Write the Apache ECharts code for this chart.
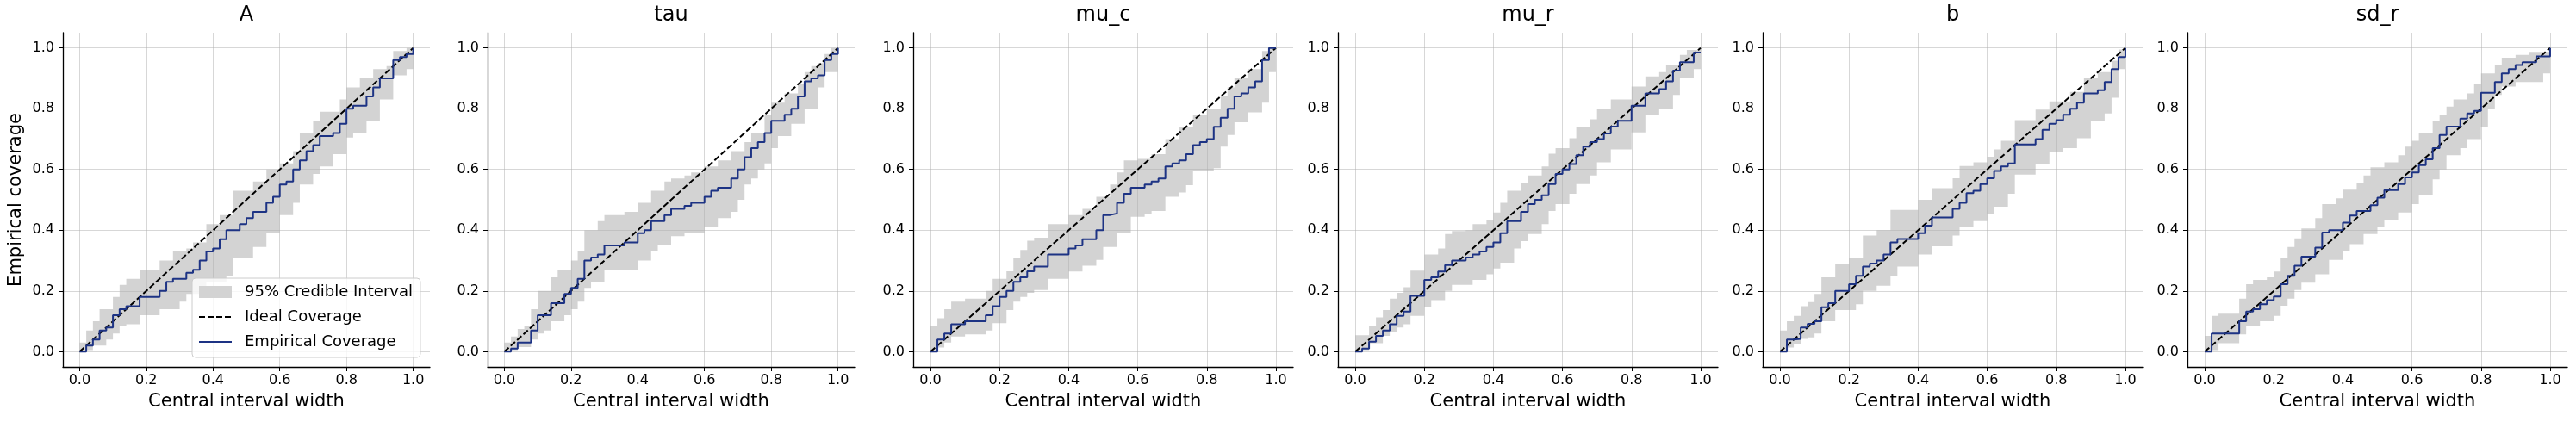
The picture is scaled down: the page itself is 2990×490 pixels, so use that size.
<!DOCTYPE html>
<html lang="en">
<head>
    <meta charset="UTF-8">
    <title>Coverage</title>
    <style>
        html, body { margin: 0; padding: 0; background: #fff; }
    </style>
</head>
<body>
<div id="myChart" style="width: 2990px;height: 490px;"></div>
</body>
<script src="https://cdn.jsdelivr.net/npm/echarts@6/dist/echarts.min.js"></script>
<script>
    // central interval widths (x) shared by all panels
    const widths = [0, 0.02, 0.04, 0.06, 0.08, 0.1, 0.12, 0.14, 0.16, 0.18, 0.2, 0.22, 0.24, 0.26, 0.28, 0.3, 0.32, 0.34, 0.36, 0.38, 0.4,
        0.42, 0.44, 0.46, 0.48, 0.5, 0.52, 0.54, 0.56, 0.58, 0.6, 0.62, 0.64, 0.66, 0.68, 0.7, 0.72, 0.74, 0.76, 0.78, 0.8,
        0.82, 0.84, 0.86, 0.88, 0.9, 0.92, 0.94, 0.96, 0.98, 1];
    const tickValues = [0, 0.2, 0.4, 0.6, 0.8, 1.0];
    const idealWidths = [0, 1];
    const idealCoverage = [0, 1];
    const panelTitles = ['A', 'tau', 'mu_c', 'mu_r', 'b', 'sd_r'];

    // A
    const A_emp = [0, 0.02, 0.04, 0.07, 0.08, 0.12, 0.14, 0.15, 0.15, 0.18, 0.18, 0.18, 0.2, 0.23, 0.24, 0.24, 0.26, 0.27, 0.3, 0.33, 0.34,
        0.37, 0.4, 0.4, 0.42, 0.44, 0.46, 0.46, 0.49, 0.51, 0.55, 0.56, 0.6, 0.63, 0.66, 0.68, 0.71, 0.71, 0.72, 0.75, 0.8,
        0.81, 0.81, 0.84, 0.87, 0.9, 0.9, 0.96, 0.97, 0.98, 1];
    const A_upper = [0.03, 0.07, 0.1, 0.14, 0.14, 0.18, 0.22, 0.24, 0.24, 0.27, 0.27, 0.27, 0.3, 0.3, 0.33, 0.33, 0.34, 0.36, 0.36, 0.42, 0.42,
        0.45, 0.45, 0.53, 0.53, 0.53, 0.56, 0.56, 0.6, 0.6, 0.62, 0.62, 0.66, 0.72, 0.72, 0.76, 0.79, 0.79, 0.79, 0.83, 0.87,
        0.87, 0.9, 0.9, 0.93, 0.93, 0.94, 0.99, 0.99, 1, 1];
    const A_lower = [0, 0.005, 0.02, 0.02, 0.04, 0.06, 0.085, 0.09, 0.09, 0.12, 0.12, 0.12, 0.14, 0.14, 0.14, 0.165, 0.19, 0.19, 0.19, 0.23, 0.23,
        0.23, 0.25, 0.31, 0.31, 0.31, 0.345, 0.345, 0.39, 0.39, 0.45, 0.45, 0.49, 0.55, 0.55, 0.585, 0.61, 0.61, 0.65, 0.65, 0.705,
        0.72, 0.72, 0.76, 0.76, 0.83, 0.83, 0.91, 0.91, 0.93, 0.96];

    // tau
    const tau_emp = [0, 0.01, 0.03, 0.03, 0.07, 0.12, 0.12, 0.16, 0.16, 0.19, 0.21, 0.24, 0.3, 0.31, 0.32, 0.35, 0.35, 0.35, 0.36, 0.36, 0.39,
        0.4, 0.43, 0.43, 0.45, 0.47, 0.47, 0.48, 0.49, 0.49, 0.51, 0.53, 0.54, 0.54, 0.57, 0.6, 0.64, 0.67, 0.69, 0.72, 0.76,
        0.76, 0.78, 0.8, 0.84, 0.89, 0.9, 0.91, 0.96, 0.98, 1];
    const tau_upper = [0.03, 0.05, 0.075, 0.085, 0.14, 0.2, 0.2, 0.245, 0.27, 0.27, 0.3, 0.33, 0.4, 0.4, 0.43, 0.45, 0.45, 0.45, 0.46, 0.46, 0.49,
        0.49, 0.53, 0.53, 0.56, 0.57, 0.57, 0.58, 0.59, 0.59, 0.61, 0.61, 0.63, 0.63, 0.66, 0.66, 0.69, 0.72, 0.72, 0.78, 0.82,
        0.82, 0.85, 0.85, 0.88, 0.92, 0.94, 0.95, 0.98, 1, 1];
    const tau_lower = [0, 0.005, 0.015, 0.015, 0.04, 0.06, 0.07, 0.1, 0.1, 0.12, 0.14, 0.165, 0.21, 0.23, 0.23, 0.27, 0.27, 0.27, 0.27, 0.27, 0.3,
        0.3, 0.33, 0.35, 0.35, 0.38, 0.38, 0.39, 0.39, 0.39, 0.41, 0.41, 0.44, 0.44, 0.46, 0.5, 0.55, 0.57, 0.6, 0.62, 0.67,
        0.71, 0.71, 0.75, 0.75, 0.8, 0.8, 0.87, 0.92, 0.92, 0.96];

    // mu_c
    const mu_c_emp = [0, 0.04, 0.06, 0.09, 0.09, 0.1, 0.1, 0.1, 0.12, 0.15, 0.18, 0.2, 0.23, 0.245, 0.265, 0.28, 0.28, 0.32, 0.32, 0.32, 0.34,
        0.35, 0.37, 0.37, 0.4, 0.45, 0.455, 0.49, 0.52, 0.54, 0.54, 0.55, 0.56, 0.57, 0.61, 0.62, 0.63, 0.65, 0.68, 0.69, 0.7,
        0.74, 0.77, 0.8, 0.84, 0.85, 0.87, 0.89, 0.96, 1, 1];
    const mu_c_upper = [0.085, 0.11, 0.14, 0.165, 0.165, 0.175, 0.175, 0.175, 0.2, 0.24, 0.24, 0.265, 0.31, 0.335, 0.365, 0.375, 0.375, 0.42, 0.42, 0.42, 0.45,
        0.45, 0.47, 0.47, 0.51, 0.51, 0.55, 0.59, 0.63, 0.63, 0.635, 0.635, 0.65, 0.65, 0.7, 0.7, 0.74, 0.74, 0.78, 0.78, 0.8,
        0.8, 0.84, 0.87, 0.9, 0.9, 0.93, 0.93, 0.99, 1, 1];
    const mu_c_lower = [0, 0.014, 0.03, 0.05, 0.05, 0.057, 0.057, 0.057, 0.07, 0.094, 0.094, 0.137, 0.165, 0.18, 0.194, 0.203, 0.203, 0.24, 0.24, 0.24, 0.264,
        0.264, 0.283, 0.283, 0.302, 0.345, 0.345, 0.39, 0.39, 0.444, 0.444, 0.453, 0.463, 0.463, 0.51, 0.51, 0.524, 0.548, 0.595, 0.595, 0.595,
        0.604, 0.675, 0.713, 0.755, 0.755, 0.788, 0.788, 0.82, 0.92, 0.96];

    // mu_r
    const mu_r_emp = [0, 0.01, 0.033, 0.052, 0.07, 0.09, 0.118, 0.132, 0.184, 0.184, 0.236, 0.245, 0.264, 0.285, 0.3, 0.3, 0.31, 0.32, 0.33, 0.345, 0.36,
        0.39, 0.43, 0.43, 0.46, 0.486, 0.5, 0.515, 0.552, 0.585, 0.6, 0.618, 0.647, 0.675, 0.69, 0.7, 0.718, 0.741, 0.76, 0.76, 0.81,
        0.81, 0.85, 0.85, 0.864, 0.89, 0.925, 0.953, 0.953, 0.985, 0.985];
    const mu_r_upper = [0.054, 0.054, 0.085, 0.113, 0.137, 0.175, 0.194, 0.212, 0.267, 0.267, 0.32, 0.32, 0.34, 0.387, 0.397, 0.397, 0.4, 0.42, 0.42, 0.434, 0.458,
        0.49, 0.53, 0.53, 0.557, 0.58, 0.58, 0.61, 0.652, 0.67, 0.67, 0.703, 0.741, 0.741, 0.765, 0.798, 0.798, 0.83, 0.83, 0.83, 0.873,
        0.873, 0.906, 0.906, 0.92, 0.944, 0.944, 0.977, 0.993, 0.993, 0.993];
    const mu_r_lower = [0, 0.005, 0.028, 0.028, 0.052, 0.066, 0.08, 0.09, 0.118, 0.118, 0.146, 0.17, 0.17, 0.2, 0.22, 0.22, 0.22, 0.236, 0.236, 0.255, 0.274,
        0.293, 0.293, 0.34, 0.364, 0.387, 0.387, 0.42, 0.463, 0.486, 0.486, 0.52, 0.552, 0.552, 0.58, 0.623, 0.623, 0.666, 0.666, 0.666, 0.722,
        0.722, 0.78, 0.78, 0.798, 0.798, 0.845, 0.9, 0.9, 0.93, 0.93];

    // b
    const b_emp = [0, 0.04, 0.042, 0.08, 0.092, 0.1, 0.146, 0.16, 0.2, 0.2, 0.222, 0.25, 0.28, 0.29, 0.3, 0.32, 0.36, 0.371, 0.371, 0.371, 0.39,
        0.415, 0.442, 0.442, 0.442, 0.47, 0.49, 0.522, 0.53, 0.552, 0.571, 0.595, 0.61, 0.62, 0.682, 0.682, 0.682, 0.7, 0.73, 0.75, 0.762,
        0.78, 0.8, 0.82, 0.85, 0.85, 0.861, 0.888, 0.93, 0.97, 1];
    const b_upper = [0.07, 0.1, 0.118, 0.15, 0.163, 0.19, 0.245, 0.245, 0.29, 0.29, 0.31, 0.31, 0.382, 0.382, 0.4, 0.4, 0.467, 0.467, 0.467, 0.467, 0.5,
        0.5, 0.538, 0.538, 0.538, 0.571, 0.611, 0.611, 0.623, 0.623, 0.642, 0.666, 0.694, 0.694, 0.762, 0.762, 0.762, 0.797, 0.797, 0.824, 0.824,
        0.824, 0.855, 0.855, 0.9, 0.9, 0.92, 0.92, 0.958, 0.995, 1];
    const b_lower = [0, 0.014, 0.024, 0.042, 0.047, 0.06, 0.1, 0.1, 0.137, 0.137, 0.137, 0.156, 0.2, 0.2, 0.217, 0.217, 0.25, 0.28, 0.28, 0.28, 0.32,
        0.32, 0.347, 0.347, 0.347, 0.382, 0.41, 0.41, 0.43, 0.43, 0.453, 0.477, 0.477, 0.52, 0.583, 0.583, 0.583, 0.619, 0.619, 0.656, 0.656,
        0.67, 0.67, 0.703, 0.703, 0.76, 0.76, 0.784, 0.836, 0.93, 0.96];

    // sd_r
    const sd_r_emp = [0, 0.06, 0.06, 0.06, 0.06, 0.1, 0.132, 0.14, 0.156, 0.17, 0.182, 0.222, 0.25, 0.283, 0.313, 0.313, 0.343, 0.392, 0.4, 0.4, 0.425,
        0.448, 0.463, 0.463, 0.482, 0.507, 0.532, 0.532, 0.552, 0.574, 0.59, 0.614, 0.633, 0.67, 0.713, 0.741, 0.741, 0.767, 0.784, 0.793, 0.852,
        0.852, 0.888, 0.916, 0.93, 0.944, 0.953, 0.953, 0.972, 0.972, 1];
    const sd_r_upper = [0.052, 0.118, 0.125, 0.125, 0.125, 0.175, 0.222, 0.236, 0.236, 0.245, 0.264, 0.307, 0.345, 0.373, 0.406, 0.406, 0.44, 0.486, 0.486, 0.505, 0.533,
        0.533, 0.557, 0.58, 0.607, 0.607, 0.623, 0.623, 0.647, 0.675, 0.694, 0.718, 0.718, 0.76, 0.78, 0.807, 0.83, 0.83, 0.85, 0.883, 0.916,
        0.916, 0.944, 0.968, 0.968, 0.977, 0.977, 0.987, 0.987, 0.987, 1];
    const sd_r_lower = [0, 0.005, 0.028, 0.028, 0.028, 0.057, 0.085, 0.085, 0.1, 0.1, 0.118, 0.151, 0.175, 0.203, 0.227, 0.227, 0.255, 0.255, 0.302, 0.302, 0.33,
        0.354, 0.354, 0.387, 0.387, 0.41, 0.432, 0.432, 0.458, 0.458, 0.486, 0.515, 0.515, 0.567, 0.6, 0.647, 0.647, 0.67, 0.7, 0.7, 0.741,
        0.798, 0.845, 0.873, 0.873, 0.888, 0.888, 0.888, 0.888, 0.916, 0.963];

    const empirical = [A_emp, tau_emp, mu_c_emp, mu_r_emp, b_emp, sd_r_emp];
    const bandUpper = [A_upper, tau_upper, mu_c_upper, mu_r_upper, b_upper, sd_r_upper];
    const bandLower = [A_lower, tau_lower, mu_c_lower, mu_r_lower, b_lower, sd_r_lower];

    // layout (px)
    const gridLeft = [73, 566, 1060, 1553, 2046, 2539];
    const gridWidth = [426, 426, 441, 441, 441, 441];
    const gridTop = 38;
    const gridHeight = 388;

    const FONT = 'DejaVu Sans';
    const bandColor = '#d3d3d3';
    const empColor = '#1d3384';

    var main = document.querySelector('#myChart');
    var myChart = echarts.init(main);

    function bandRenderer(lower, upper) {
        return function (params, api) {
            // whole stepped band drawn once, as one polygon
            if (params.dataIndex !== 0) return null;
            let top = [], bottom = [];
            for (let k = 0; k < widths.length; k++) {
                let x0 = widths[k];
                let x1 = widths[Math.min(k + 1, widths.length - 1)];
                top.push(api.coord([x0, upper[k]]), api.coord([x1, upper[k]]));
                bottom.push(api.coord([x0, lower[k]]), api.coord([x1, lower[k]]));
            }
            return {
                type: 'polygon',
                shape: {points: top.concat(bottom.reverse())},
                style: {fill: bandColor}
            };
        };
    }

    let grids = [], xAxes = [], yAxes = [], titles = [], series = [];
    panelTitles.forEach(function (t, i) {
        grids.push({left: gridLeft[i], top: gridTop, width: gridWidth[i], height: gridHeight});
        titles.push({
            text: t,
            left: gridLeft[i] + gridWidth[i] / 2,
            top: 6,
            textAlign: 'center',
            padding: 0,
            textStyle: {fontSize: 24, fontWeight: 'normal', color: '#000', fontFamily: FONT}
        });
        xAxes.push({
            type: 'value', gridIndex: i, min: -0.05, max: 1.05, z: 1,
            name: 'Central interval width', nameLocation: 'middle', nameGap: 30,
            nameTextStyle: {fontSize: 21, color: '#000', fontFamily: FONT},
            axisLine: {show: true, onZero: false, lineStyle: {color: '#000', width: 1.3}},
            axisTick: {show: true, length: 5, customValues: tickValues, lineStyle: {color: '#000', width: 1}},
            axisLabel: {customValues: tickValues, formatter: v => v.toFixed(1), fontSize: 16, color: '#000', margin: 8, fontFamily: FONT},
            splitLine: {show: true, lineStyle: {color: 'rgba(176,176,176,0.5)', width: 1}}
        });
        yAxes.push({
            type: 'value', gridIndex: i, min: -0.05, max: 1.05, z: 1,
            name: i === 0 ? 'Empirical coverage' : '', nameLocation: 'middle', nameGap: 44, nameRotate: 90,
            nameTextStyle: {fontSize: 21, color: '#000', fontFamily: FONT},
            axisLine: {show: true, onZero: false, lineStyle: {color: '#000', width: 1.3}},
            axisTick: {show: true, length: 5, customValues: tickValues, lineStyle: {color: '#000', width: 1}},
            axisLabel: {customValues: tickValues, formatter: v => v.toFixed(1), fontSize: 16, color: '#000', margin: 10, fontFamily: FONT},
            splitLine: {show: true, lineStyle: {color: 'rgba(176,176,176,0.5)', width: 1}}
        });
        series.push({
            type: 'custom',
            name: '95% Credible Interval',
            xAxisIndex: i, yAxisIndex: i,
            z: 0,
            clip: true,
            itemStyle: {color: bandColor},
            encode: {x: 0, y: [1, 2]},
            renderItem: bandRenderer(bandLower[i], bandUpper[i]),
            data: widths.map((w, k) => [w, bandLower[i][k], bandUpper[i][k]])
        });
        series.push({
            type: 'line',
            name: 'Ideal Coverage',
            xAxisIndex: i, yAxisIndex: i,
            z: 2,
            symbol: 'none',
            lineStyle: {color: '#000', width: 2, type: [7, 3]},
            itemStyle: {color: '#000'},
            data: idealWidths.map((w, k) => [w, idealCoverage[k]])
        });
        series.push({
            type: 'line',
            name: 'Empirical Coverage',
            xAxisIndex: i, yAxisIndex: i,
            z: 3,
            step: 'end',
            symbol: 'none',
            lineStyle: {color: empColor, width: 2},
            itemStyle: {color: empColor},
            data: widths.map((w, k) => [w, empirical[i][k]])
        });
    });

    option = {
        backgroundColor: '#fff',
        animation: false,
        title: titles,
        legend: {
            orient: 'vertical',
            left: 223,
            top: 323,
            itemWidth: 38,
            itemHeight: 14,
            itemGap: 9,
            padding: [6, 9, 8, 7],
            selectedMode: false,
            backgroundColor: 'rgba(255,255,255,0.8)',
            borderColor: '#cccccc',
            borderWidth: 1,
            borderRadius: 4,
            // hide the marker symbol on the line entries
            itemStyle: {opacity: 0},
            textStyle: {fontSize: 18, color: '#000', fontFamily: FONT, lineHeight: 20, padding: [0, 0, 0, 10]},
            data: [
                {name: '95% Credible Interval', icon: 'rect', itemStyle: {color: bandColor, opacity: 1}},
                {name: 'Ideal Coverage'},
                {name: 'Empirical Coverage'}
            ]
        },
        grid: grids,
        xAxis: xAxes,
        yAxis: yAxes,
        series: series
    };
    myChart.setOption(option);
</script>
</html>
